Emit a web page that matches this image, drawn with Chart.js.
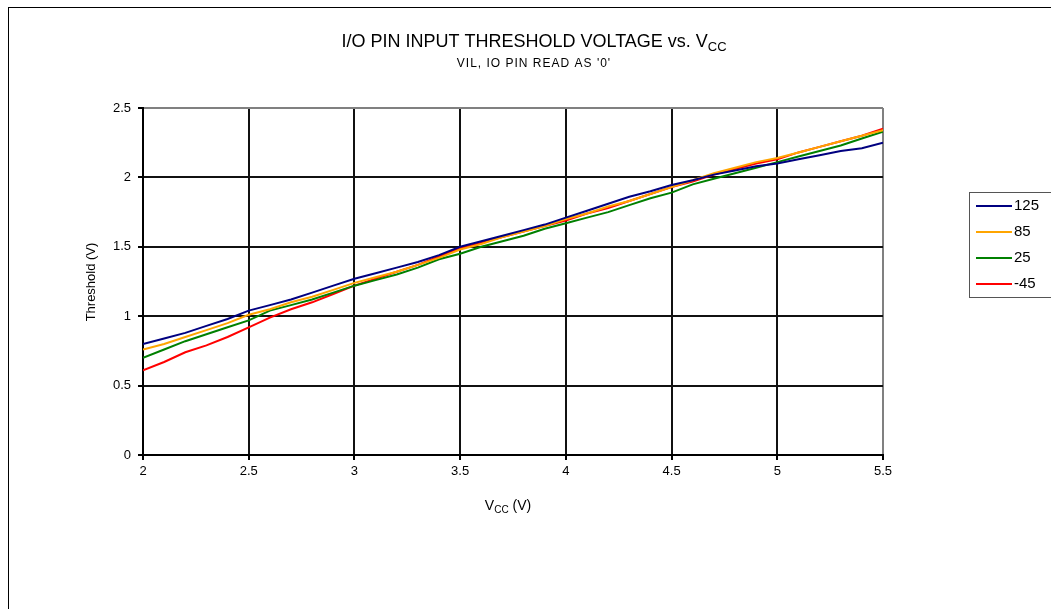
<!DOCTYPE html>
<html>
<head>
<meta charset="utf-8">
<script src="https://cdn.jsdelivr.net/npm/chart.js@4"></script>
<style>
  html, body { margin: 0; padding: 0; background: #fff; }
  canvas { display: block; }
</style>
</head>
<body>
<canvas id="chart" width="1051" height="609"></canvas>
<script>
// VCC sweep (V)
const vcc = [2.0, 2.1, 2.2, 2.3, 2.4, 2.5, 2.6, 2.7, 2.8, 2.9,
             3.0, 3.1, 3.2, 3.3, 3.4, 3.5, 3.6, 3.7, 3.8, 3.9,
             4.0, 4.1, 4.2, 4.3, 4.4, 4.5, 4.6, 4.7, 4.8, 4.9,
             5.0, 5.1, 5.2, 5.3, 5.4, 5.5];

// threshold (V) per temperature
const t125 = [0.80, 0.84, 0.88, 0.93, 0.98, 1.04, 1.08, 1.12, 1.17, 1.22,
              1.27, 1.31, 1.35, 1.39, 1.44, 1.50, 1.54, 1.58, 1.62, 1.66,
              1.71, 1.76, 1.81, 1.86, 1.90, 1.945, 1.98, 2.02, 2.05, 2.08,
              2.10, 2.13, 2.16, 2.19, 2.21, 2.25];
const t85  = [0.76, 0.80, 0.85, 0.90, 0.95, 1.01, 1.05, 1.10, 1.14, 1.19,
              1.24, 1.28, 1.32, 1.37, 1.42, 1.48, 1.52, 1.57, 1.61, 1.65,
              1.70, 1.74, 1.79, 1.83, 1.88, 1.93, 1.98, 2.03, 2.07, 2.11,
              2.14, 2.18, 2.22, 2.26, 2.30, 2.34];
const t25  = [0.70, 0.76, 0.82, 0.87, 0.92, 0.97, 1.04, 1.08, 1.12, 1.17,
              1.22, 1.26, 1.30, 1.35, 1.41, 1.45, 1.50, 1.54, 1.58, 1.63,
              1.67, 1.71, 1.75, 1.80, 1.85, 1.89, 1.95, 1.99, 2.03, 2.07,
              2.11, 2.15, 2.19, 2.23, 2.28, 2.33];
const tm45 = [0.61, 0.67, 0.74, 0.79, 0.85, 0.92, 0.99, 1.05, 1.10, 1.16,
              1.22, 1.27, 1.32, 1.37, 1.43, 1.49, 1.53, 1.57, 1.61, 1.65,
              1.69, 1.74, 1.78, 1.83, 1.88, 1.93, 1.97, 2.02, 2.06, 2.10,
              2.13, 2.18, 2.22, 2.26, 2.30, 2.35];

const seriesLabels = ['125', '85', '25', '-45'];
const seriesColors = ['#000080', '#FFA500', '#008000', '#FF0000'];
const seriesData = [t125, t85, t25, tm45];

const FONT = '"Liberation Sans", Arial, sans-serif';

function pts(arr) {
  return vcc.map((v, i) => ({ x: v, y: arr[i] }));
}

// text with a subscript part, centered at cx
function drawSub(ctx, parts, cx, cy, size) {
  const subSize = Math.round(size * 0.72);
  let total = 0;
  parts.forEach(p => {
    ctx.font = (p.sub ? subSize : size) + 'px ' + FONT;
    total += ctx.measureText(p.t).width;
  });
  let x = cx - total / 2;
  ctx.textAlign = 'left';
  ctx.textBaseline = 'middle';
  parts.forEach(p => {
    ctx.font = (p.sub ? subSize : size) + 'px ' + FONT;
    ctx.fillText(p.t, x, p.sub ? cy + size * 0.3 : cy);
    x += ctx.measureText(p.t).width;
  });
}

const decor = {
  id: 'decor',
  afterDraw(chart) {
    const ctx = chart.ctx;
    ctx.save();
    ctx.fillStyle = '#000';

    // outer frame
    ctx.strokeStyle = '#000';
    ctx.lineWidth = 1;
    ctx.strokeRect(8.5, 7.5, 1100, 700);

    // titles
    drawSub(ctx, [{ t: 'I/O PIN INPUT THRESHOLD VOLTAGE vs. V' }, { t: 'CC', sub: true }], 534, 42, 18);
    ctx.save();
    ctx.font = '12px ' + FONT;
    ctx.letterSpacing = '1px';
    ctx.textAlign = 'center';
    ctx.textBaseline = 'middle';
    ctx.fillText("VIL, IO PIN READ AS '0'", 534, 64);
    ctx.restore();

    // axis titles
    drawSub(ctx, [{ t: 'V' }, { t: 'CC', sub: true }, { t: ' (V)' }], 508, 506, 14);
    ctx.save();
    ctx.translate(91, 282);
    ctx.rotate(-Math.PI / 2);
    ctx.font = '13px ' + FONT;
    ctx.textAlign = 'center';
    ctx.textBaseline = 'middle';
    ctx.fillText('Threshold (V)', 0, 0);
    ctx.restore();

    // legend
    ctx.strokeStyle = '#555';
    ctx.lineWidth = 1;
    ctx.strokeRect(969.5, 192.5, 120, 105);
    ctx.font = '15px ' + FONT;
    ctx.textAlign = 'left';
    ctx.textBaseline = 'middle';
    seriesLabels.forEach((lab, i) => {
      const y = 206 + i * 26;
      ctx.strokeStyle = seriesColors[i];
      ctx.lineWidth = 2;
      ctx.beginPath();
      ctx.moveTo(976, y);
      ctx.lineTo(1012, y);
      ctx.stroke();
      ctx.fillStyle = '#000';
      ctx.fillText(lab, 1014, y);
    });
    ctx.restore();
  }
};

new Chart(document.getElementById('chart'), {
  type: 'line',
  data: {
    datasets: seriesLabels.map((lab, i) => ({
      label: lab,
      data: pts(seriesData[i]),
      borderColor: seriesColors[i],
      backgroundColor: seriesColors[i],
      borderWidth: 2,
      pointRadius: 0,
      tension: 0
    }))
  },
  options: {
    responsive: false,
    animation: false,
    devicePixelRatio: 1,
    layout: { padding: { left: 0, top: 108, right: 168, bottom: 124 } },
    plugins: {
      legend: { display: false },
      tooltip: { enabled: false }
    },
    scales: {
      x: {
        type: 'linear',
        min: 2, max: 5.5,
        afterFit: s => { s.height = 30; },
        ticks: { stepSize: 0.5, color: '#000', padding: 4, font: { family: FONT, size: 13 },
                 callback: v => String(v) },
        grid: {
          color: c => (c.tick && c.tick.value === 5.5) ? '#808080' : '#111',
          lineWidth: 2,
          tickLength: 5,
          tickColor: '#000'
        },
        border: { color: '#000', width: 2 }
      },
      y: {
        min: 0, max: 2.5,
        afterFit: s => { s.width = 143; },
        ticks: { stepSize: 0.5, color: '#000', padding: 7, font: { family: FONT, size: 13 },
                 callback: v => String(v) },
        grid: {
          color: c => (c.tick && c.tick.value === 2.5) ? '#808080' : '#111',
          lineWidth: 2,
          tickLength: 5,
          tickColor: '#000'
        },
        border: { color: '#000', width: 2 }
      }
    }
  },
  plugins: [decor]
});
</script>
</body>
</html>
